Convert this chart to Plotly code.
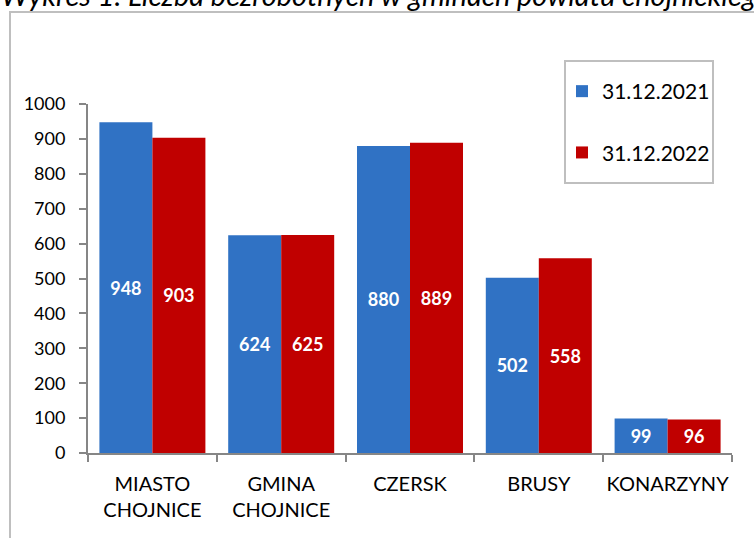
import plotly.graph_objects as go

categories = ["MIASTO<br>CHOJNICE", "GMINA<br>CHOJNICE", "CZERSK", "BRUSY", "KONARZYNY"]
series_2021 = [948, 624, 880, 502, 99]
series_2022 = [903, 625, 889, 558, 96]
series_names = ["31.12.2021", "31.12.2022"]
y_ticks = [0, 100, 200, 300, 400, 500, 600, 700, 800, 900, 1000]
title_text = "Wykres 1. Liczba bezrobotnych w gminach powiatu chojnickiego"

W, H = 754, 538
L, R, T, B = 88, 22, 104, 85
PW, PH = W - L - R, H - T - B

def px_x(px):
    return (px - L) / PW

def px_y(py):
    return (H - B - py) / PH

FONT = "Lato"
BLUE = "#3072C4"
RED = "#C00000"

fig = go.Figure()
for name, vals, col, grp in [(series_names[0], series_2021, BLUE, "a"),
                             (series_names[1], series_2022, RED, "b")]:
    fig.add_trace(go.Bar(
        x=categories, y=vals, name=name, legendgroup=grp,
        marker=dict(color=col, line=dict(width=0)),
        text=[str(v) for v in vals], textposition="inside",
        insidetextanchor="middle", textangle=0,
        textfont=dict(family=FONT, size=18, color="white", weight="bold"),
        cliponaxis=False,
    ))

fig.update_layout(
    width=W, height=H,
    margin=dict(l=L, r=R, t=T, b=B, autoexpand=False),
    paper_bgcolor="white", plot_bgcolor="white",
    barmode="group", bargap=0.177, bargroupgap=0,
    font=dict(family=FONT, color="#000000"),
    showlegend=True,
    legend=dict(
        x=px_x(562), y=px_y(71), xanchor="left", yanchor="top",
        bgcolor="rgba(0,0,0,0)", borderwidth=0,
        font=dict(family=FONT, size=21, color="#000000"),
        traceorder="grouped", tracegroupgap=31,
    ),
    xaxis=dict(
        type="category", range=[-0.5, 4.5],
        showline=True, linecolor="#868686", linewidth=2,
        ticks="outside", ticklen=7, tickwidth=2, tickcolor="#868686",
        tickson="boundaries", showgrid=False, zeroline=False,
        tickangle=0,
        tickfont=dict(family=FONT, size=20, color="#000000"),
        ticklabelstandoff=12,
    ),
    yaxis=dict(
        range=[0, 1000], tickvals=y_ticks,
        showline=True, linecolor="#868686", linewidth=2,
        ticks="outside", ticklen=7, tickwidth=2, tickcolor="#868686",
        showgrid=False, zeroline=False,
        tickfont=dict(family=FONT, size=18, color="#000000"),
        ticklabelstandoff=10,
    ),
    shapes=[
        dict(type="rect", xref="paper", yref="paper",
             x0=px_x(10), x1=px_x(770), y0=px_y(12), y1=px_y(560),
             line=dict(color="#BFBFBF", width=2), fillcolor="rgba(0,0,0,0)", layer="below"),
        dict(type="rect", xref="paper", yref="paper",
             x0=px_x(565), x1=px_x(713), y0=px_y(61), y1=px_y(183),
             line=dict(color="#BFBFBF", width=2), fillcolor="rgba(0,0,0,0)", layer="above"),
    ],
    annotations=[
        dict(text=title_text, xref="paper", yref="paper",
             x=px_x(-1), y=px_y(14), xanchor="left", yanchor="bottom",
             showarrow=False,
             font=dict(family=FONT, size=29, style="italic", color="#000000")),
    ],
)

fig.write_html("out.html", config={"displayModeBar": False},
               post_script="document.body.style.margin='0';")
